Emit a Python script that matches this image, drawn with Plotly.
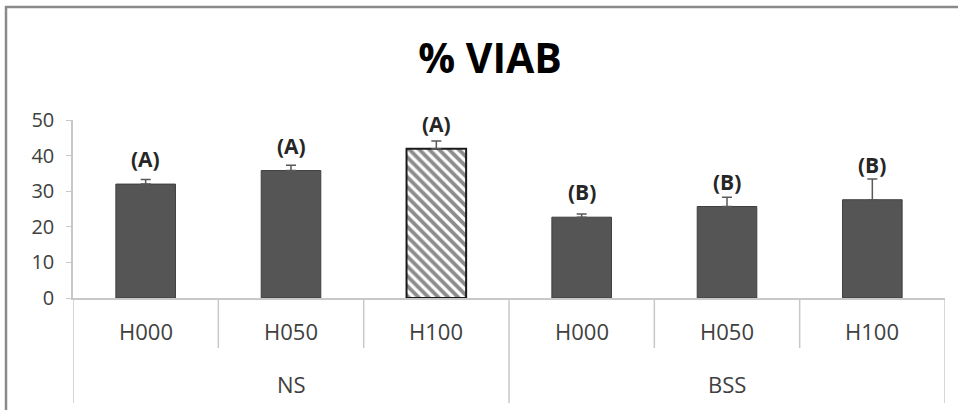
import plotly.graph_objects as go

# Viability (%) per treatment, grouped by medium
groups = ["NS", "NS", "NS", "BSS", "BSS", "BSS"]
treatments = ["H000", "H050", "H100", "H000", "H050", "H100"]
viability = [32.0, 35.8, 41.9, 22.7, 25.7, 27.6]
errors = [1.3, 1.5, 2.2, 0.9, 2.6, 5.8]
letters = ["(A)", "(A)", "(A)", "(B)", "(B)", "(B)"]
hatched = [False, False, True, False, False, False]
y_ticks = [0, 10, 20, 30, 40, 50]

W, H = 958, 410
L, R, T, B = 73, 13, 120, 112
plot_w, plot_h = W - L - R, H - T - B
Y_MAX = 50
px_per_unit = plot_h / Y_MAX


def px_x(px):
    return (px - L) / plot_w


def px_y(py):
    return (H - B - py) / plot_h


FONT = "Open Sans"
pos = list(range(len(treatments)))

fig = go.Figure()

solid = [i for i in pos if not hatched[i]]
fig.add_trace(go.Bar(
    x=[pos[i] for i in solid],
    y=[viability[i] for i in solid],
    width=0.41,
    marker=dict(color="#555555", line=dict(color="#3f3f3f", width=1)),
    error_y=dict(type="data", symmetric=False,
                 array=[errors[i] for i in solid],
                 arrayminus=[0] * len(solid),
                 color="#595959", thickness=1.5, width=5),
    showlegend=False,
))

hatch = [i for i in pos if hatched[i]]
fig.add_trace(go.Bar(
    x=[pos[i] for i in hatch],
    y=[viability[i] for i in hatch],
    width=0.41,
    marker=dict(color="white",
                pattern=dict(shape="\\", fgcolor="#1a1a1a", bgcolor="white",
                             size=7, solidity=0.55),
                line=dict(color="#1a1a1a", width=2)),
    error_y=dict(type="data", symmetric=False,
                 array=[errors[i] for i in hatch],
                 arrayminus=[0] * len(hatch),
                 color="#595959", thickness=1.5, width=5),
    showlegend=False,
))

annotations = []
# significance letters above each bar, lifted clear of tall error bars
for i in pos:
    shift = max(25, errors[i] * px_per_unit + 14)
    annotations.append(dict(
        x=pos[i], y=viability[i], xref="x", yref="y",
        text=letters[i], showarrow=False, yanchor="middle", yshift=shift,
        font=dict(family=FONT, size=21, color="#262626", weight="bold"),
    ))

# treatment labels
for i in pos:
    annotations.append(dict(
        x=pos[i], y=px_y(331), xref="x", yref="paper",
        text=treatments[i], showarrow=False, yanchor="middle",
        font=dict(family=FONT, size=22, color="#404040"),
    ))

# group labels and separators
shapes = []
group_names = []
for g in groups:
    if g not in group_names:
        group_names.append(g)
for g in group_names:
    idx = [i for i in pos if groups[i] == g]
    center = sum(idx) / len(idx)
    annotations.append(dict(
        x=center, y=px_y(384), xref="x", yref="paper",
        text=g, showarrow=False, yanchor="middle",
        font=dict(family=FONT, size=22, color="#404040"),
    ))

boundaries = [p - 0.5 for p in pos] + [pos[-1] + 0.5]
for k, b in enumerate(boundaries):
    is_group_edge = (k == 0 or k == len(pos) or groups[k] != groups[k - 1])
    y_end = px_y(403) if is_group_edge else px_y(348)
    shapes.append(dict(type="line", xref="x", yref="paper",
                       x0=b, x1=b, y0=0, y1=y_end,
                       line=dict(color="#c8c8c8", width=1.5)))

# outer chart frame (top and left edges)
shapes.append(dict(type="line", xref="paper", yref="paper",
                   x0=px_x(5), x1=px_x(W + 5), y0=px_y(7), y1=px_y(7),
                   line=dict(color="#8a8a8a", width=2.5)))
shapes.append(dict(type="line", xref="paper", yref="paper",
                   x0=px_x(6), x1=px_x(6), y0=px_y(6), y1=px_y(H + 5),
                   line=dict(color="#8a8a8a", width=2.5)))

fig.update_layout(
    width=W, height=H,
    margin=dict(l=L, r=R, t=T, b=B, pad=0),
    paper_bgcolor="white", plot_bgcolor="white",
    title=dict(text="% VIAB", x=490 / W, xanchor="center",
               y=1 - 59 / H, yanchor="middle", yref="container",
               font=dict(family=FONT, size=41, color="#000000", weight="bold")),
    xaxis=dict(range=[-0.5, len(pos) - 0.5], showticklabels=False,
               showgrid=False, zeroline=False, showline=True,
               linecolor="#c8c8c8", linewidth=1.5, ticks=""),
    yaxis=dict(range=[0, Y_MAX], tickvals=y_ticks, showgrid=False,
               zeroline=False, showline=True, linecolor="#c8c8c8",
               linewidth=1.5, ticks="outside", ticklen=5,
               tickcolor="#c8c8c8", ticklabelstandoff=8,
               tickfont=dict(family=FONT, size=20, color="#404040")),
    annotations=annotations,
    shapes=shapes,
    barmode="overlay",
)

fig.write_html("out.html")
